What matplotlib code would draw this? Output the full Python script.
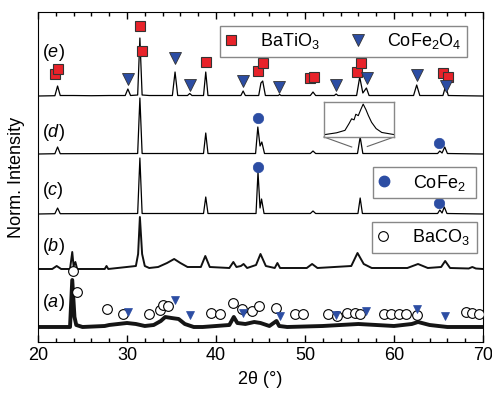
import matplotlib
matplotlib.use("Agg")
import matplotlib.pyplot as plt
from matplotlib.lines import Line2D
from matplotlib.ticker import MultipleLocator
import numpy as np

plt.rcParams['font.family'] = ['Liberation Sans', 'DejaVu Sans']
plt.rcParams['mathtext.fontset'] = 'custom'
plt.rcParams['mathtext.rm'] = 'Liberation Sans'
plt.rcParams['mathtext.it'] = 'Liberation Sans:italic'
plt.rcParams['mathtext.bf'] = 'Liberation Sans:bold'

# ---------------- data (2theta in degrees, intensity in arbitrary units above each baseline)
e_x = [20.0, 21.9, 22.2, 22.5, 24.0, 26.0, 28.0, 29.8, 30.1, 30.4, 31.2, 31.45, 31.7, 32.5,
       35.1, 35.4, 35.7, 36.8, 37.05, 37.3, 38.6, 38.85, 39.1, 42.8, 43.05, 43.3, 44.8, 45.05,
       45.25, 45.55, 47.0, 47.15, 47.3, 50.6, 50.9, 51.2, 53.3, 53.5, 53.7, 55.8, 56.15, 56.5,
       56.9, 57.2, 62.2, 62.55, 62.9, 65.5, 65.8, 66.1, 70.0]
e_y = [0, 0.3, 10, 0.5, 0.5, 0.3, 0.5, 0.5, 7, 0.5, 1, 58, 1, 0.5,
       0.5, 24, 0.5, 0.5, 2.5, 0.5, 0.5, 24, 0.5, 0.5, 5, 0.5, 0.5, 13,
       15, 0.5, 0.5, 1.5, 0.5, 0.5, 4, 0.5, 0.5, 2, 0.5, 0.5, 19, 3,
       8, 0.5, 0.5, 11, 0.5, 0.5, 10, 0.5, 0]

d_x = [20.0, 21.9, 22.2, 22.5, 31.2, 31.45, 31.7, 38.6, 38.85, 39.1, 44.45, 44.7, 44.95,
       45.15, 45.45, 50.6, 50.9, 51.2, 55.9, 56.2, 56.5, 64.9, 65.15, 65.4, 65.7, 66.0, 70.0]
d_y = [0, 0.3, 7, 0.3, 0.5, 56, 0.5, 0.5, 21, 0.5, 0.5, 27, 8,
       12, 0.5, 0.5, 3, 0.5, 0.5, 17, 0.5, 0.5, 3, 1, 7, 0.5, 0]

c_x = [20.0, 21.9, 22.2, 22.5, 31.2, 31.45, 31.7, 38.6, 38.85, 39.1, 44.5, 44.72, 44.95,
       45.12, 45.4, 50.6, 50.9, 51.2, 55.95, 56.2, 56.45, 64.9, 65.15, 65.4, 65.65, 65.95, 70.0]
c_y = [0, 0.3, 6, 0.3, 0.5, 56, 0.5, 0.5, 17, 0.5, 0.5, 42, 6,
       15, 0.5, 0.5, 3, 0.5, 0.5, 16, 0.5, 0.5, 4, 1, 7, 0.5, 0]

b_x = [20.0, 21.6, 22.1, 22.6, 23.6, 23.85, 24.0, 24.2, 24.4, 27.5, 27.7, 27.9, 31.0, 31.25,
       31.45, 31.7, 32.0, 32.5, 33.5, 34.5, 35.3, 36.0, 36.8, 38.3, 38.8, 39.3, 41.5, 41.95,
       42.3, 42.8, 43.1, 43.5, 44.5, 45.0, 45.6, 46.6, 46.9, 47.2, 50.2, 50.8, 51.4, 55.2,
       55.9, 56.6, 57.5, 61.5, 62.7, 63.8, 65.3, 65.75, 66.3, 68.4, 68.8, 69.2, 70.0]
b_y = [0, 0, 3, 0, 0, 17, 3, 7, 0, 0, 3, 0, 3, 15,
       52, 15, 3, 1, 2, 6, 10, 6, 2, 2, 13, 2, 1, 7,
       2, 3, 5, 1, 4, 15, 3, 1, 6, 1, 1, 5, 1, 3,
       16, 5, 1, 1, 5, 1, 2, 8, 1, 0.5, 2, 0.5, 0]

a_x = [20.0, 23.6, 23.85, 24.1, 24.3, 25.0, 27.5, 28.0, 29.0, 30.0, 31.0, 32.0, 33.0, 33.8,
       34.3, 35.0, 35.8, 36.5, 37.5, 38.5, 40.0, 41.5, 42.0, 42.4, 43.3, 44.3, 45.0, 46.0,
       46.8, 47.1, 48.0, 52.0, 54.0, 56.0, 58.0, 60.0, 62.0, 62.7, 64.0, 66.0, 70.0]
a_y = [0, 0, 47, 10, 2, 0, 1, 2, 3, 4, 3, 1, 2, 6,
       10, 9, 8, 3, 0, 0, 1, 2, 10, 4, 3, 5, 4, 1,
       6, 1, 0, 1, 2, 3, 2, 1, 3, 5, 2, 0, 0]

curve_names = ['(a)', '(b)', '(c)', '(d)', '(e)']

# BaTiO3 (squares) and CoFe2O4 (triangles) markers on curve (e)
bto_x = [21.94, 22.25, 31.46, 31.65, 38.84, 44.75, 45.24, 50.56, 51.05, 55.88, 56.26, 65.55, 66.07]
bto_y = [268, 272.7, 316, 291.3, 280.3, 271, 278.7, 264.3, 265.3, 270.3, 278.7, 269.3, 265.3]
cfo_e_x = [30.08, 35.43, 37.08, 43.07, 47.12, 53.48, 56.93, 62.55, 65.84]
cfo_e_y = [263, 284.3, 257, 261, 254.7, 257, 263.7, 267, 256]

# CoFe2 circles on curves (d) and (c)
cofe_x = [44.75, 65.1, 44.75, 65.1]
cofe_y = [223.7, 199.3, 175, 139.3]

# BaCO3 open circles and CoFe2O4 triangles on curve (a)
baco_x = [23.9, 24.35, 27.7, 29.5, 32.5, 33.7, 34.1, 34.6, 39.4, 40.45, 41.9, 42.95, 44.1,
          44.87, 46.74, 48.9, 49.8, 52.6, 53.56, 54.7, 55.6, 56.2, 58.9, 59.7, 60.6, 61.4,
          62.55, 68.1, 68.8, 69.6]
baco_y = [71, 50, 33, 28, 27.7, 32, 37, 36.3, 29.3, 27.7, 39.3, 32.7, 31.3,
          36.3, 33.7, 27.7, 27.7, 27.7, 26, 28.7, 28.7, 28, 27.7, 27.7, 27.7, 27.7,
          27, 29.7, 28.7, 28]
cfo_a_x = [30.08, 35.4, 37.08, 43.07, 47.2, 53.5, 56.9, 62.55, 65.7]
cfo_a_y = [30.3, 42, 27, 29.3, 26.3, 27, 31.3, 32.7, 26.3]

# inset: magnified (d) peak near 56.2 deg
inset_x = [55.23, 55.56, 55.8, 55.92, 55.99, 56.06, 56.11, 56.18, 56.25, 56.32, 56.4,
           56.47, 56.56, 56.69, 56.85, 57.2]
inset_y = [0.07, 0.12, 0.19, 0.39, 0.52, 0.49, 0.65, 0.61, 0.78, 0.94, 0.78,
           0.61, 0.42, 0.24, 0.13, 0.07]

# ---------------- layout / style
offsets = [15, 73, 128, 188, 246]
widths = [2.8, 1.4, 0.9, 0.9, 0.9]
colors = ['#151515', '#111111', 'black', 'black', 'black']
label_y = [39, 95, 152, 210, 290]

red = '#e8232a'
blue = '#2c4da3'

fig = plt.figure(figsize=(4.92, 3.94), dpi=100)
ax = fig.add_axes([0.0772, 0.132, 0.9045, 0.8375])

xs = [a_x, b_x, c_x, d_x, e_x]
ys = [a_y, b_y, c_y, d_y, e_y]
for x, y, off, lw, col in zip(xs, ys, offsets, widths, colors):
    ax.plot(x, np.array(y) + off, color=col, lw=lw, solid_joinstyle='round', zorder=2)

for name, ly in zip(curve_names, label_y):
    letter = name[1]
    ax.text(20.45, ly, '(' + r'$\mathit{' + letter + '}$' + ')', fontsize=13,
            ha='left', va='center')

ax.plot(bto_x, bto_y, ls='none', marker='s', ms=7, mfc=red, mec='#333333', mew=0.8, zorder=4)
ax.plot(cfo_e_x, cfo_e_y, ls='none', marker='v', ms=9, mfc=blue, mec='#333333', mew=0.6, zorder=4)
ax.plot(cofe_x, cofe_y, ls='none', marker='o', ms=7.5, mfc=blue, mec=blue, mew=0.5, zorder=4)
ax.plot(baco_x, baco_y, ls='none', marker='o', ms=7, mfc='white', mec='black', mew=0.8, zorder=4)
ax.plot(cfo_a_x, cfo_a_y, ls='none', marker='v', ms=6, mfc=blue, mec=blue, mew=0.5, zorder=4)

# inset
ins = ax.inset_axes([52.13, 205, 7.87, 35], transform=ax.transData)
ins.plot(inset_x, inset_y, color='black', lw=0.8)
ins.set_xlim(55.2, 57.2)
ins.set_ylim(0, 1.0)
ins.set_xticks([])
ins.set_yticks([])
for sp in ins.spines.values():
    sp.set_color('#888888')
    sp.set_linewidth(1.0)
ax.plot([52.13, 55.25], [205, 195], color='#666666', lw=0.8, zorder=3)
ax.plot([60.0, 57.0], [205, 195.5], color='#666666', lw=0.8, zorder=3)

ax.set_xlim(20, 70)
ax.set_ylim(0, 330)
ax.set_yticks([])
ax.xaxis.set_major_locator(MultipleLocator(10))
ax.xaxis.set_minor_locator(MultipleLocator(2))
ax.tick_params(axis='x', which='both', direction='in', top=True, labelsize=13)
ax.tick_params(axis='x', which='major', length=5, width=1)
ax.tick_params(axis='x', which='minor', length=3, width=1)
ax.set_xlabel('2θ (°)', fontsize=13, labelpad=5)
ax.set_ylabel('Norm. Intensity', fontsize=13, labelpad=9)

leg_kw = dict(frameon=True, fancybox=False, edgecolor='#888888', framealpha=1,
              fontsize=13, handlelength=0.6, handletextpad=1.3, borderpad=0.3,
              mode='expand', loc='upper left', borderaxespad=0)
h_bto = Line2D([], [], ls='none', marker='s', ms=7, mfc=red, mec='#333333', mew=0.8)
h_cfo = Line2D([], [], ls='none', marker='v', ms=9, mfc=blue, mec='#333333', mew=0.6)
h_cofe = Line2D([], [], ls='none', marker='o', ms=7.5, mfc=blue, mec=blue)
h_baco = Line2D([], [], ls='none', marker='o', ms=7, mfc='white', mec='black', mew=0.8)

leg1 = ax.legend([h_bto, h_cfo], ['BaTiO$_3$', 'CoFe$_2$O$_4$'], ncol=2,
                 bbox_to_anchor=(0.409, 0.958, 0.555, 0), columnspacing=1.5, **leg_kw)
leg1.get_frame().set_linewidth(1.0)
ax.add_artist(leg1)
leg2 = ax.legend([h_cofe], ['CoFe$_2$'], bbox_to_anchor=(0.753, 0.530, 0.231, 0), **leg_kw)
leg2.get_frame().set_linewidth(1.0)
ax.add_artist(leg2)
leg3 = ax.legend([h_baco], ['BaCO$_3$'], bbox_to_anchor=(0.751, 0.364, 0.236, 0), **leg_kw)
leg3.get_frame().set_linewidth(1.0)

fig.savefig('out.png', dpi=100)
